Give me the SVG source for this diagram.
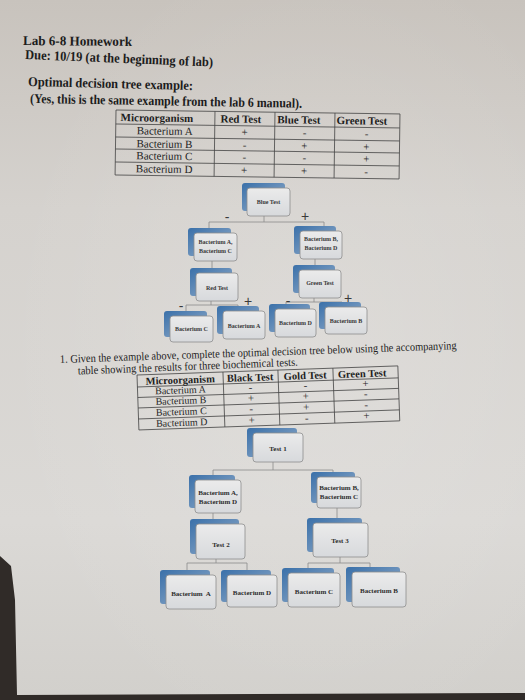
<svg xmlns="http://www.w3.org/2000/svg" width="525" height="700" viewBox="0 0 525 700">
<defs>
<linearGradient id="paper" x1="0" y1="0" x2="0" y2="1">
<stop offset="0" stop-color="#c8c3bd"/>
<stop offset="0.3" stop-color="#d5d2ce"/>
<stop offset="0.75" stop-color="#dbd9d6"/>
<stop offset="1" stop-color="#d2d0cc"/>
</linearGradient>
<radialGradient id="glow" cx="0.6" cy="0.5" r="0.6">
<stop offset="0" stop-color="#ffffff" stop-opacity="0.15"/>
<stop offset="1" stop-color="#ffffff" stop-opacity="0"/>
</radialGradient>
<linearGradient id="shg" x1="0" y1="0" x2="1" y2="1">
<stop offset="0" stop-color="#3a70a9"/>
<stop offset="0.55" stop-color="#6d93bc"/>
<stop offset="1" stop-color="#a6bace"/>
</linearGradient>
<linearGradient id="frg" x1="0" y1="0" x2="0" y2="1">
<stop offset="0" stop-color="#ebebeb"/>
<stop offset="1" stop-color="#d7d9dc"/>
</linearGradient>
<style>
.sh{fill:url(#shg)}
.fr{fill:url(#frg);stroke:#8e8e8e;stroke-width:0.8}
.t1{font-family:"Liberation Serif",serif;font-weight:bold;font-size:6px;fill:#383838;text-anchor:middle}
.t2{font-family:"Liberation Serif",serif;font-weight:bold;font-size:7px;fill:#2e2e2e;text-anchor:middle}
.hd{font-family:"Liberation Serif",serif;font-weight:bold;font-size:13.5px;fill:#1c1c1c}
.q{font-family:"Liberation Serif",serif;font-size:11.5px;fill:#1e1e1e}
.tb{font-family:"Liberation Serif",serif;font-size:11px;fill:#252525;text-anchor:middle}
.tbh{font-family:"Liberation Serif",serif;font-weight:bold;font-size:11px;fill:#1e1e1e;text-anchor:middle}
.grid{fill:none;stroke:#444;stroke-width:0.8}
.con path{fill:none;stroke:#8a8a8a;stroke-width:0.8}
.sg{font-family:"Liberation Sans",sans-serif;fill:#3a3a3a;text-anchor:middle;font-size:14px}
</style>
</defs>
<rect width="525" height="700" fill="#302b28"/>
<polygon points="0,0 525,0 525,693 17,695 15,600 11,566 0,556" fill="url(#paper)"/>
<polygon points="0,0 525,0 525,693 17,695 15,600 11,566 0,556" fill="url(#glow)"/>

<g id="header">
<text class="hd" x="23" y="45" textLength="109" lengthAdjust="spacingAndGlyphs" transform="rotate(0.5 23 45)">Lab 6-8 Homework</text>
<text class="hd" x="25" y="59" textLength="188" lengthAdjust="spacingAndGlyphs" transform="rotate(2.3 25 59)">Due: 10/19 (at the beginning of lab)</text>
<text class="hd" x="28" y="86" textLength="165" lengthAdjust="spacingAndGlyphs" transform="rotate(1.4 28 86)">Optimal decision tree example:</text>
<text class="hd" x="30" y="103" textLength="272" lengthAdjust="spacingAndGlyphs" transform="rotate(1 30 103)">(Yes, this is the same example from the lab 6 manual).</text>
</g>

<g id="table1" transform="rotate(0.8 116 110)">
<rect class="grid" x="116" y="110" width="284" height="65"/>
<path class="grid" d="M116,124H400M116,137H400M116,149H400M116,162H400M215,110V175M275,110V175M335,110V175"/>
<text class="tbh" x="157" y="121">Microorganism</text>
<text class="tbh" x="241" y="121">Red Test</text>
<text class="tbh" x="299" y="121">Blue Test</text>
<text class="tbh" x="362" y="121">Green Test</text>
<text class="tb" x="165" y="134">Bacterium A</text>
<text class="tb" x="165" y="147">Bacterium B</text>
<text class="tb" x="165" y="159">Bacterium C</text>
<text class="tb" x="165" y="172">Bacterium D</text>
<text class="tb" x="245" y="134">+</text><text class="tb" x="305" y="134">-</text><text class="tb" x="367" y="134">-</text>
<text class="tb" x="245" y="147">-</text><text class="tb" x="305" y="147">+</text><text class="tb" x="367" y="147">+</text>
<text class="tb" x="245" y="159">-</text><text class="tb" x="305" y="159">-</text><text class="tb" x="367" y="159">+</text>
<text class="tb" x="245" y="172">+</text><text class="tb" x="305" y="172">+</text><text class="tb" x="367" y="172">-</text>
</g>

<g id="connectors1" class="con">
<path d="M264,216V222M209,222H324M209,222V228M324,222V226"/>
<path d="M212,261V268M315,259V265"/>
<path d="M211,301V305M186,305H238M186,305V311M238,305V306"/>
<path d="M314,298V302M286,302H342M286,302V304"/>
</g>
<g id="signs1">
<text class="sg" x="227" y="222">-</text>
<text class="sg" x="305" y="221">+</text>
<text class="sg" x="181" y="311">-</text>
<text class="sg" x="248" y="306">+</text>
<text class="sg" x="288" y="306">-</text>
<text class="sg" x="348" y="303">+</text>
</g>

<g id="blue-test"><rect class="sh" x="242" y="183" width="43" height="28" rx="3"/><rect class="fr" x="247" y="188" width="43" height="28" rx="3"/><text class="t1" x="268.5" y="204">Blue Test</text></g>
<g id="bact-ac"><rect class="sh" x="188" y="228" width="43" height="28" rx="3"/><rect class="fr" x="194" y="233" width="43" height="28" rx="3"/><text class="t1" x="215.5" y="243.5">Bacterium A,</text><text class="t1" x="215.5" y="253">Bacterium C</text></g>
<g id="bact-bd"><rect class="sh" x="294" y="226" width="42" height="28" rx="3"/><rect class="fr" x="300" y="231" width="42" height="28" rx="3"/><text class="t1" x="321" y="241">Bacterium B,</text><text class="t1" x="321" y="250">Bacterium D</text></g>
<g id="red-test"><rect class="sh" x="190" y="268" width="42" height="28" rx="3"/><rect class="fr" x="196" y="273" width="42" height="28" rx="3"/><text class="t1" x="217" y="289.5">Red Test</text></g>
<g id="green-test"><rect class="sh" x="293" y="265" width="42" height="28" rx="3"/><rect class="fr" x="299" y="270" width="42" height="28" rx="3"/><text class="t1" x="320" y="285">Green Test</text></g>
<g id="leaf1-c"><rect class="sh" x="164" y="311" width="43" height="26" rx="3"/><rect class="fr" x="170" y="316" width="43" height="26" rx="3"/><text class="t1" x="191.5" y="331">Bacterium C</text></g>
<g id="leaf1-a"><rect class="sh" x="217" y="306" width="42" height="28" rx="3"/><rect class="fr" x="223" y="311" width="42" height="28" rx="3"/><text class="t1" x="244" y="328">Bacterium A</text></g>
<g id="leaf1-d"><rect class="sh" x="269" y="304" width="41" height="28" rx="3"/><rect class="fr" x="275" y="309" width="41" height="28" rx="3"/><text class="t1" x="295.5" y="324.5">Bacterium D</text></g>
<g id="leaf1-b"><rect class="sh" x="319" y="302" width="42" height="27" rx="3"/><rect class="fr" x="325" y="307" width="42" height="27" rx="3"/><text class="t1" x="346" y="323">Bacterium B</text></g>

<g id="question">
<text class="q" x="60" y="363" textLength="397" lengthAdjust="spacingAndGlyphs" transform="rotate(-2 60 363)">1.  Given the example above, complete the optimal decision tree below using the accompanying</text>
<text class="q" x="78" y="374.5" textLength="220" lengthAdjust="spacingAndGlyphs" transform="rotate(-2.3 78 374.5)">table showing the results for three biochemical tests.</text>
</g>

<g id="table2" transform="rotate(-2 137 375)">
<rect class="grid" x="137" y="375" width="261" height="55"/>
<path class="grid" d="M137,387H398M137,397.5H398M137,408H398M137,419H398M223,375V430M278,375V430M333,375V430"/>
<text class="tbh" x="180" y="385" style="font-size:10.5px">Microorganism</text>
<text class="tbh" x="250" y="385" style="font-size:10.5px">Black Test</text>
<text class="tbh" x="305" y="385" style="font-size:10.5px">Gold Test</text>
<text class="tbh" x="362" y="385" style="font-size:10.5px">Green Test</text>
<text class="tb" x="180" y="395" style="font-size:10px">Bacterium A</text>
<text class="tb" x="180" y="405.5" style="font-size:10px">Bacterium B</text>
<text class="tb" x="180" y="416.5" style="font-size:10px">Bacterium C</text>
<text class="tb" x="180" y="427.5" style="font-size:10px">Bacterium D</text>
<text class="tb" x="250" y="395">-</text><text class="tb" x="305" y="395">-</text><text class="tb" x="365" y="395">+</text>
<text class="tb" x="250" y="405.5">+</text><text class="tb" x="305" y="405.5">+</text><text class="tb" x="365" y="405.5">-</text>
<text class="tb" x="250" y="416.5">-</text><text class="tb" x="305" y="416.5">+</text><text class="tb" x="365" y="416.5">-</text>
<text class="tb" x="250" y="427.5">+</text><text class="tb" x="305" y="427.5">-</text><text class="tb" x="365" y="427.5">+</text>
</g>

<g id="connectors2" class="con">
<path d="M273,462V470M213,470H333M213,470V475M333,470V472"/>
<path d="M213,513V519M337,508V518"/>
<path d="M216,559V563M187,563H247M187,563V570M247,563V570"/>
<path d="M340,557V563M308,563H370M308,563V568M370,563V567"/>
</g>

<g id="test1"><rect class="sh" x="247" y="428" width="50" height="29" rx="3"/><rect class="fr" x="253" y="433" width="50" height="29" rx="3"/><text class="t2" x="278" y="450.5">Test 1</text></g>
<g id="bact-ad"><rect class="sh" x="189" y="475" width="46" height="33" rx="3"/><rect class="fr" x="195" y="480" width="46" height="33" rx="3"/><text class="t2" x="218" y="494.5">Bacterium A,</text><text class="t2" x="218" y="503.5">Bacterium D</text></g>
<g id="bact-bc"><rect class="sh" x="311" y="472" width="44" height="31" rx="3"/><rect class="fr" x="317" y="477" width="44" height="31" rx="3"/><text class="t2" x="339" y="490">Bacterium B,</text><text class="t2" x="339" y="498.5">Bacterium C</text></g>
<g id="test2"><rect class="sh" x="190" y="519" width="49" height="35" rx="3"/><rect class="fr" x="196" y="524" width="49" height="35" rx="3"/><text class="t2" x="221" y="546.5">Test 2</text></g>
<g id="test3"><rect class="sh" x="307" y="518" width="55" height="34" rx="3"/><rect class="fr" x="313" y="523" width="55" height="34" rx="3"/><text class="t2" x="340" y="542.5">Test 3</text></g>
<g id="leaf2-a"><rect class="sh" x="160" y="570" width="50" height="34" rx="3"/><rect class="fr" x="166" y="575" width="50" height="34" rx="3"/><text class="t2" x="191" y="595.5" xml:space="preserve">Bacterium  A</text></g>
<g id="leaf2-d"><rect class="sh" x="221" y="570" width="50" height="32" rx="3"/><rect class="fr" x="227" y="575" width="50" height="32" rx="3"/><text class="t2" x="252" y="595">Bacterium D</text></g>
<g id="leaf2-c"><rect class="sh" x="282" y="568" width="52" height="34" rx="3"/><rect class="fr" x="288" y="573" width="52" height="34" rx="3"/><text class="t2" x="314" y="594">Bacterium C</text></g>
<g id="leaf2-b"><rect class="sh" x="346" y="567" width="54" height="35" rx="3"/><rect class="fr" x="352" y="572" width="54" height="35" rx="3"/><text class="t2" x="379" y="593">Bacterium B</text></g>
</svg>
